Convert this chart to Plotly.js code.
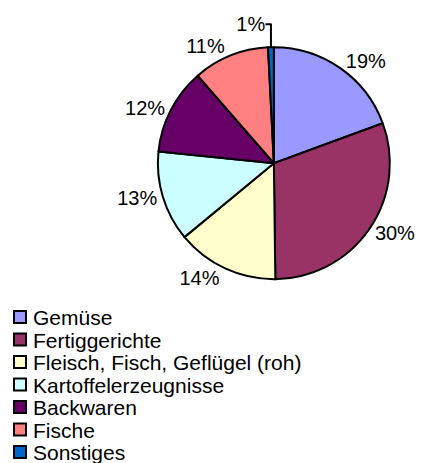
<!DOCTYPE html>
<html>
<head>
<meta charset="utf-8">
<script src="https://cdn.plot.ly/plotly-3.0.1.min.js"></script>
<style>
  html, body { margin: 0; padding: 0; background: #fff; }
  #chart { width: 421px; height: 463px; }
</style>
</head>
<body>
<div id="chart"></div>
<script>
const categories = ['Gemüse', 'Fertiggerichte', 'Fleisch, Fisch, Geflügel (roh)',
    'Kartoffelerzeugnisse', 'Backwaren', 'Fische', 'Sonstiges'];
const shares = [19.4, 30.4, 14.2, 12.6, 12.0, 10.6, 0.8];
const sliceColors = ['#9999FF', '#993366', '#FFFFCC', '#CCFFFF', '#660066', '#FF8080', '#0066CC'];

const trace = {
    type: 'pie',
    labels: categories,
    values: shares,
    sort: false,
    direction: 'clockwise',
    rotation: 0,
    marker: { colors: sliceColors, line: { color: '#000', width: 2 } },
    textposition: 'outside',
    texttemplate: '%{percent:.0%}',
    textfont: { family: 'Liberation Sans, Arial, sans-serif', size: 20, color: '#000' },
    hoverinfo: 'none',
    domain: { x: [0.375, 0.926], y: [0.397, 0.898] }
};

const layout = {
    width: 421,
    height: 463,
    margin: { l: 0, r: 0, t: 0, b: 0 },
    paper_bgcolor: '#fff',
    font: { family: 'Liberation Sans, Arial, sans-serif', size: 21, color: '#000' },
    showlegend: true,
    legend: {
        x: 0.0, xanchor: 'left',
        y: 0.0, yanchor: 'bottom',
        orientation: 'v',
        traceorder: 'normal',
        font: { size: 21, color: '#000' },
        bgcolor: 'rgba(0,0,0,0)',
        itemwidth: 30
    }
};

// legend rows sit closer together than plotly's default spacing
const rowStep = 22.5;
const firstRowY = 317;
const textX = 33;

Plotly.newPlot('chart', [trace], layout, { displayModeBar: false, staticPlot: true }).then(gd => {
    const items = gd.querySelectorAll('.legend .traces');
    if (!items.length) return;
    const m = /translate\(\s*([-\d.]+)[ ,]+([-\d.]+)\s*\)/.exec(items[0].getAttribute('transform') || '');
    const x0 = m ? parseFloat(m[1]) : 0;
    let y0 = m ? parseFloat(m[2]) : 0;
    const place = () => items.forEach((g, i) => {
        g.setAttribute('transform', `translate(${x0}, ${y0 + i * rowStep})`);
    });
    items.forEach(g => {
        const t = g.querySelector('text.legendtext');
        if (t) t.setAttribute('x', textX);
    });
    place();
    const box = items[0].querySelector('.legendpoints').getBoundingClientRect();
    y0 += firstRowY - (box.top + box.height / 2);
    place();
    const clip = gd.querySelector('.legend .scrollbox');
    if (clip) clip.removeAttribute('clip-path');
});
</script>
</body>
</html>
